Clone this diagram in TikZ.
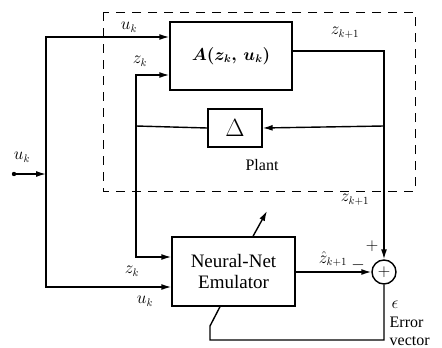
\documentclass[tikz,border=0pt]{standalone}
\usepackage{fontspec}
\setmainfont{Liberation Serif}
\usepackage{amsmath,amssymb}
\usepackage{tikz}
\usetikzlibrary{arrows.meta, positioning, calc}

\begin{document}
\begin{tikzpicture}[
    x=1pt, y=-1pt,
    line width=1.4pt,
    blk/.style={draw, line width=1.4pt, align=center, inner sep=0pt},
    arr/.style={-{Latex[length=10pt, width=6pt]}},
    sig/.style={font=\fontsize{16}{18}\selectfont, inner sep=1pt},
]
\useasboundingbox (0,0) rectangle (442,348);

% plant boundary
\draw[dashed, line width=0.9pt, dash pattern=on 9pt off 7pt] (103,12) rectangle (415,191);

\node[blk, minimum width=122pt, minimum height=68pt, font=\fontsize{16}{18}\selectfont] (plantfn) at (231,56) {$\boldsymbol{A(z_k,\,u_k)}$};
\node[blk, minimum width=54pt, minimum height=38pt, font=\fontsize{28}{30}\selectfont] (delta) at (235,128) {$\Delta$};
\node[blk, minimum width=123pt, minimum height=69pt, font=\fontsize{19}{21}\selectfont] (nn) at (233.5,271.5) {Neural-Net\\Emulator};
\node[draw, circle, line width=1.4pt, minimum size=24pt, inner sep=0pt, font=\fontsize{16}{16}\selectfont] (sum) at (384,272) {$+$};
\node[font=\fontsize{16}{18}\selectfont] (plant-lbl) at (262,165) {Plant};

\coordinate (uin) at (14,174);
\coordinate (ujn) at (46,174);
\coordinate (zjn) at (136,126);
\coordinate (ojn) at (384,126);

\fill (uin) circle (2.2pt);
\draw[arr] (uin) -- (ujn);
\draw[arr] (ujn) |- (plantfn.west |- 0,37);
\draw[arr] (ujn) |- (nn.west |- 0,287);

\draw (delta.west) -- (zjn);
\draw[arr] (zjn) |- (plantfn.west |- 0,75);
\draw[arr] (zjn) |- (nn.west |- 0,257);

\draw (plantfn.east |- 0,51) -| (ojn);
\draw[arr] (ojn) -- (delta.east);
\draw[arr] (ojn) -- (sum.north);
\draw[arr] (nn.east |- sum) -- (sum.west);

% error fed back to the emulator
\draw (sum.south) |- (210,340) -- (210,326) -- (nn.south -| 220,0);
\draw[arr] (nn.north -| 253,0) -- (267,211);

% signal labels
\node[sig] (u-in) at (22,157) {$u_k$};
\node[sig] (u-top) at (129,27) {$u_k$};
\node[sig] (z-top) at (140,61) {$z_k$};
\node[sig] (zn-top) at (345,33) {$z_{k+1}$};
\node[sig] (zn-mid) at (355,200) {$z_{k+1}$};
\node[sig] (z-bot) at (132,271) {$z_k$};
\node[sig] (u-bot) at (145,301) {$u_k$};
\node[sig] (zh) at (333,259) {$\hat{z}_{k+1}$};
\node[sig, inner sep=0pt] (minus) at (358,265) {$-$};
\node[sig, inner sep=0pt] (plus) at (372,246) {$+$};
\node[sig] (eps) at (395,305) {$\epsilon$};
\node[font=\fontsize{16}{18}\selectfont, align=left, anchor=north west, inner sep=0pt] (err) at (389,316) {Error\\vector};
\end{tikzpicture}
\end{document}
